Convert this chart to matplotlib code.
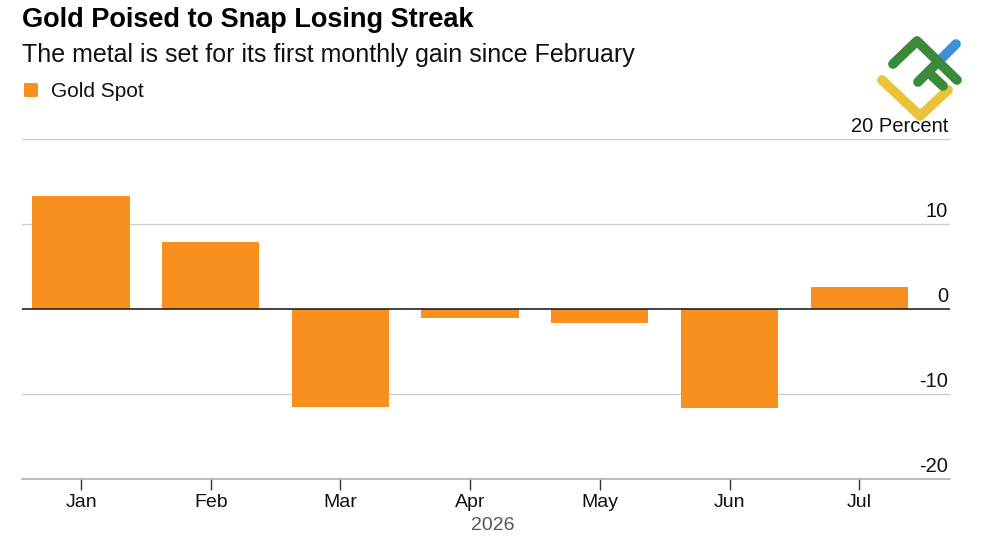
import matplotlib
matplotlib.use("Agg")
import matplotlib.pyplot as plt
from matplotlib.lines import Line2D
from matplotlib.patches import FancyBboxPatch
import matplotlib.transforms as mtransforms

months = ["Jan", "Feb", "Mar", "Apr", "May", "Jun", "Jul"]
gold_spot = [13.3, 7.9, -11.5, -1.05, -1.65, -11.7, 2.6]
y_ticks = [-20, -10, 0, 10, 20]
y_labels = ["-20", "-10", "0", "10", "20 Percent"]
year_label = "2026"

plt.rcParams['font.family'] = ['Liberation Sans', 'DejaVu Sans']

W, H = 1000, 545
fig = plt.figure(figsize=(W / 100, H / 100), dpi=100)
fig.patch.set_facecolor("white")

def fx(px):
    return px / W

def fy(py):
    return 1 - py / H

ax = fig.add_axes([fx(22), fy(479), fx(950) - fx(22), fy(139) - fy(479)])
orange = "#F7901E"
x = list(range(len(months)))
ax.bar(x, gold_spot, width=0.75, color=orange, zorder=3)

ax.set_xlim(-0.455, 6.70)
ax.set_ylim(-20, 20)

for s in ["top", "right", "left"]:
    ax.spines[s].set_visible(False)
ax.spines["bottom"].set_color("#b0b0b0")
ax.spines["bottom"].set_linewidth(1.2)

for t in y_ticks:
    if t == 0:
        ax.axhline(0, color="#222222", lw=1.2, zorder=4)
    elif t != -20:
        ax.axhline(t, color="#cccccc", lw=1.0, zorder=1)

ax.set_yticks([])
trans = mtransforms.blended_transform_factory(ax.transAxes, ax.transData)
offset = mtransforms.ScaledTranslation(0, 2 / 72, fig.dpi_scale_trans)
for t, lab in zip(y_ticks, y_labels):
    ax.text(0.998, t, lab, transform=trans + offset, ha="right", va="bottom",
            fontsize=14.5, color="#111111")

ax.set_xticks(x)
ax.set_xticklabels(months, fontsize=14, color="#111111")
ax.tick_params(axis="x", length=8, width=1, color="#333333", pad=3)

fig.text(fx(493), fy(526), year_label, ha="center", va="center",
         fontsize=14, color="#555555")

fig.text(fx(22), fy(20), "Gold Poised to Snap Losing Streak", ha="left", va="center",
         fontsize=19.5, fontweight="bold", color="#000000")
fig.text(fx(22), fy(55), "The metal is set for its first monthly gain since February",
         ha="left", va="center", fontsize=18, color="#111111")
fig.patches.append(FancyBboxPatch((fx(24), fy(97)), fx(14), 14 / H,
                                  boxstyle="round,pad=0,rounding_size=0.002",
                                  transform=fig.transFigure,
                                  facecolor=orange, edgecolor="none"))
fig.text(fx(51), fy(91), "Gold Spot", ha="left", va="center", fontsize=15, color="#111111")

# logo
def seg(pts, color):
    fig.lines.append(Line2D([fx(p[0]) for p in pts], [fy(p[1]) for p in pts],
                            transform=fig.transFigure, color=color, lw=7,
                            solid_capstyle="round", solid_joinstyle="round"))

seg([(882, 80), (920, 116), (948, 90)], "#EBC33B")
seg([(942, 58), (956, 44)], "#3C8FD8")
seg([(893, 64), (917, 41), (957, 80)], "#3B8A3A")
seg([(918, 82), (937, 63)], "#3B8A3A")
seg([(928, 72), (943, 86)], "#3B8A3A")

fig.savefig("out.png", dpi=100, facecolor="white")
